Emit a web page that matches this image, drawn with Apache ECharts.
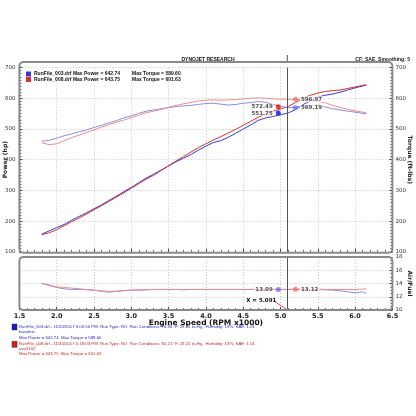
<!DOCTYPE html>
<html>
<head>
<meta charset="utf-8">
<script src="https://cdn.jsdelivr.net/npm/echarts@6/dist/echarts.min.js"></script>
<style>
  html, body { margin: 0; padding: 0; background: #fff; }
  #chart { width: 416px; height: 416px; }
</style>
</head>
<body>
<div id="chart"></div>
<script>
// engine speed, RPM x1000
const rpm = [1.8, 1.9, 2.0, 2.1, 2.2, 2.3, 2.4, 2.5, 2.6, 2.7, 2.8, 2.9, 3.0, 3.1, 3.2, 3.3, 3.4, 3.5, 3.6, 3.7,
  3.8, 3.9, 4.0, 4.1, 4.2, 4.3, 4.4, 4.5, 4.6, 4.7, 4.8, 4.9, 5.0, 5.1, 5.2, 5.3, 5.4, 5.5, 5.6, 5.7,
  5.8, 5.9, 6.0, 6.1, 6.15];

// RunFile_003 (blue, baseline)
const power003 = [158, 168, 179, 189, 203, 215, 227, 240, 253, 267, 281, 296, 310, 325, 340, 353, 366, 380, 393, 405,
  417, 431, 444, 456, 462, 473, 486, 500, 513, 528, 536, 541, 546, 552, 563, 579, 592, 604, 610, 614,
  620, 627, 634, 640, 642.7];
const torque003 = [460, 463, 470, 478, 484, 491, 497, 505, 512, 520, 527, 536, 543, 551, 558, 562, 566, 570, 573, 575,
  577, 580, 583, 584, 581, 578, 580, 584, 586, 589.6, 587, 580, 574, 569, 571, 574, 576, 577, 572, 566,
  562, 558, 555, 551, 549];
const afr003 = [14.0, 13.7, 13.4, 13.2, 13.1, 13.1, 13.05, 13.0, 12.8, 12.7, 12.8, 12.9, 13.0, 13.0, 13.05, 13.1, 13.1, 13.1, 13.1, 13.05,
  13.1, 13.1, 13.1, 13.1, 13.1, 13.1, 13.1, 13.1, 13.1, 13.1, 13.1, 13.1, 13.09, 13.1, 13.1, 13.1, 13.1, 13.1, 13.05, 13.0,
  12.9, 12.75, 12.6, 12.75, 12.5];

// RunFile_008 (red)
const power008 = [156, 162, 172, 185, 198, 210, 223, 237, 250, 264, 278, 292, 307, 322, 337, 349, 365, 380, 396, 410,
  425, 439, 452, 464, 475, 487, 499, 512, 525, 538, 548, 558, 565, 573, 586, 600, 610, 617, 622, 625,
  627, 632, 637, 642, 643.75];
const torque008 = [455, 449, 452, 462, 472, 480, 489, 497, 506, 514, 522, 529, 537, 545, 553, 558, 564, 570, 577, 582,
  587, 591, 594, 595, 594, 595, 596, 598, 600, 601.6, 600, 598, 597, 597, 596, 595, 593, 590, 585, 577,
  570, 564, 559, 555, 553];
const afr008 = [14.0, 13.8, 13.5, 13.4, 13.3, 13.2, 13.1, 13.0, 12.9, 12.8, 12.85, 12.95, 13.0, 13.05, 13.05, 13.1, 13.1, 13.1, 13.1, 13.1,
  13.1, 13.1, 13.1, 13.1, 13.1, 13.1, 13.1, 13.1, 13.1, 13.1, 13.1, 13.1, 13.12, 13.12, 13.15, 13.15, 13.15, 13.15, 13.1, 13.1,
  13.1, 13.1, 13.1, 13.15, 13.2];

const runNames = ['RunFile_003.drf', 'RunFile_008.drf'];
const maxPower = ['642.74', '643.75'];
const maxTorque = ['589.60', '601.63'];

// cursor readout
const cursorRpm = 5.091;
const readLeftRpm = 4.97;
const readRightRpm = 5.2;
const cursorPower = [551.75, 572.49];
const cursorTorque = [569.19, 596.97];
const cursorAfr = [13.09, 13.12];

const xTicks = [1.5, 6.5, 0.5];
const powerTicks = [100, 700, 100];
const afrTicks = [10, 18, 2];

const infoLines = [
  ['RunFile_003.drf - 11/20/2017 3:00:50 PM  Run Type: RO  Run Conditions: 76.96 °F, 29.26 in-Hg,  Humidity: 19%, SAE: 1.01',
    'baseline', 'Max Power = 642.74  Max Torque = 589.60'],
  ['RunFile_008.drf - 11/20/2017 5:18:03 PM  Run Type: RO  Run Conditions: 82.21 °F, 29.25 in-Hg,  Humidity: 13%, SAE: 1.01',
    'evo5102', 'Max Power = 643.75  Max Torque = 601.63']
];

const BLUE = '#3a3ad2';
const RED = '#d83030';
const BLUE_L = '#8c8ce8';
const RED_L = '#ee8c8c';
const FONT = 'DejaVu Sans';
const NARROW = 'Liberation Sans';

const pairs = (ys) => rpm.map((x, i) => [x, ys[i]]);

const chart = echarts.init(document.getElementById('chart'));

const line = (name, data, color, xi, yi, extra) => Object.assign({
  name, type: 'line', data, xAxisIndex: xi, yAxisIndex: yi,
  showSymbol: false, symbol: 'none', lineStyle: { color, width: 1 }, itemStyle: { color },
  emphasis: { disabled: true }, animation: false
}, extra || {});

const dot = (name, x, y, color, yi, xi, pos) => ({
  name, type: 'scatter', xAxisIndex: xi, yAxisIndex: yi, data: [[x, y]],
  symbolSize: 5, itemStyle: { color }, z: 5, animation: false,
  label: {
    show: true, position: pos, distance: 2, formatter: () => y.toFixed(2),
    fontFamily: FONT, fontSize: 5.5, fontWeight: 'bold', color: '#222',
    backgroundColor: 'rgba(255,255,255,0.9)', padding: [0, 1]
  }
});

const cursorLine = {
  silent: true, symbol: 'none', animation: false,
  lineStyle: { color: '#555', width: 1, type: 'solid' },
  label: { show: false },
  data: [{ xAxis: cursorRpm }]
};

const gridLineStyle = { color: '#c4c4c4', type: [1, 2], width: 1 };
const tickLabel = { fontFamily: FONT, fontSize: 5.5, color: '#333' };
const axisName = { fontFamily: FONT, fontSize: 6, fontWeight: 'bold', color: '#222' };

const xAxisBase = (gi) => ({
  type: 'value', gridIndex: gi, min: xTicks[0], max: xTicks[1], interval: xTicks[2],
  axisLine: { show: false },
  axisTick: { show: true, inside: true, length: 3, lineStyle: { color: '#444' } },
  minorTick: { show: true, splitNumber: 5, length: 2, lineStyle: { color: '#666' } },
  splitLine: { show: true, lineStyle: gridLineStyle }
});

const yAxisBase = (gi, pos, ticks, minor) => ({
  type: 'value', gridIndex: gi, position: pos, min: ticks[0], max: ticks[1], interval: ticks[2],
  axisLine: { show: false },
  axisTick: { show: true, inside: true, length: 3, lineStyle: { color: '#444' } },
  minorTick: { show: true, splitNumber: minor, length: 2, lineStyle: { color: '#666' } },
  axisLabel: Object.assign({ margin: pos === 'left' ? 4 : 3 }, tickLabel),
  nameLocation: 'middle', nameMoveOverlap: false, nameTextStyle: axisName
});

chart.setOption({
  backgroundColor: '#fff',
  animation: false,
  grid: [
    { left: 19.4, width: 373, top: 67.6, height: 184.2, containLabel: false, outerBoundsMode: 'none' },
    { left: 19.4, width: 373, top: 257, height: 53, containLabel: false, outerBoundsMode: 'none' }
  ],
  legend: {
    left: 21, top: 66.5, orient: 'vertical', itemGap: 0.5,
    itemWidth: 5, itemHeight: 5, icon: 'rect',
    data: runNames, selectedMode: false,
    formatter: (name) => {
      const i = runNames.indexOf(name);
      return '{a|' + name + ' Max Power = ' + maxPower[i] + '}{b|Max Torque = ' + maxTorque[i] + '}';
    },
    textStyle: {
      padding: [0, 0, 0, -2],
      rich: {
        a: { fontFamily: NARROW, fontSize: 5, fontWeight: 'bold', color: '#111', width: 98, lineHeight: 5.5 },
        b: { fontFamily: NARROW, fontSize: 5, fontWeight: 'bold', color: '#111', lineHeight: 5.5 }
      }
    }
  },
  xAxis: [
    Object.assign(xAxisBase(0), { axisLabel: { show: false } }),
    Object.assign(xAxisBase(1), {
      axisLabel: {
        show: true, margin: 3, formatter: (v) => v.toFixed(1),
        fontFamily: FONT, fontSize: 6.5, fontWeight: 'bold', color: '#222'
      },
      name: 'Engine Speed (RPM x1000)', nameLocation: 'middle', nameGap: 9.5, nameMoveOverlap: false,
      nameTextStyle: { fontFamily: FONT, fontSize: 7.5, fontWeight: 'bold', color: '#111' }
    })
  ],
  yAxis: [
    Object.assign(yAxisBase(0, 'left', powerTicks, 10), {
      splitLine: { show: true, lineStyle: gridLineStyle },
      name: 'Power (hp)', nameGap: 11, nameRotate: 90
    }),
    Object.assign(yAxisBase(0, 'right', powerTicks, 10), {
      splitLine: { show: false },
      name: 'Torque (ft-lbs)', nameGap: 14, nameRotate: -90
    }),
    Object.assign(yAxisBase(1, 'right', afrTicks, 4), {
      splitLine: { show: true, lineStyle: gridLineStyle },
      name: 'Air/Fuel', nameGap: 14, nameRotate: -90
    })
  ],
  series: [
    line(runNames[0], pairs(power003), BLUE, 0, 0, { markLine: cursorLine }),
    line(runNames[1], pairs(power008), RED, 0, 0),
    line(runNames[0], pairs(torque003), BLUE_L, 0, 1),
    line(runNames[1], pairs(torque008), RED_L, 0, 1),
    line(runNames[0], pairs(afr003), BLUE_L, 1, 2, { markLine: cursorLine }),
    line(runNames[1], pairs(afr008), RED_L, 1, 2),
    dot('p3', readLeftRpm, cursorPower[0], '#1010d0', 0, 0, 'left'),
    dot('p8', readLeftRpm, cursorPower[1], '#e01010', 0, 0, 'left'),
    dot('t3', readRightRpm, cursorTorque[0], '#7070f0', 1, 0, 'right'),
    dot('t8', readRightRpm, cursorTorque[1], '#f07070', 1, 0, 'right'),
    dot('a3', readLeftRpm, cursorAfr[0], '#7070f0', 2, 1, 'left'),
    dot('a8', readRightRpm, cursorAfr[1], '#f07070', 2, 1, 'right')
  ]
});

// frames, header and run info
const pTop = chart.convertToPixel({ gridIndex: 0 }, [xTicks[0], powerTicks[1]]);
const pBot = chart.convertToPixel({ gridIndex: 0 }, [xTicks[1], powerTicks[0]]);
const aTop = chart.convertToPixel({ gridIndex: 1 }, [xTicks[0], afrTicks[1]]);
const aBot = chart.convertToPixel({ gridIndex: 1 }, [xTicks[1], afrTicks[0]]);
const cur = chart.convertToPixel({ gridIndex: 1 }, [cursorRpm, afrTicks[0]]);

const infoY = [[327, 332, 337.6], [344.3, 349.3, 354.3]];
const info = [];
infoLines.forEach((rows, i) => {
  const color = i === 0 ? '#2828c0' : '#d02020';
  info.push({
    type: 'rect', shape: { x: 12, y: infoY[i][0] - 3, width: 5, height: 6 },
    style: { fill: i === 0 ? '#1818d0' : '#e01818', stroke: '#333', lineWidth: 0.5 }
  });
  rows.forEach((t, j) => {
    info.push({
      type: 'text', x: 19, y: infoY[i][j],
      style: { text: t, fill: color, fontFamily: NARROW, fontSize: 4.3, textVerticalAlign: 'middle' }
    });
  });
});

chart.setOption({
  graphic: [
    {
      type: 'rect', shape: { x: pTop[0], y: 62, width: pBot[0] - pTop[0], height: pBot[1] + 1 - 62, r: 4 },
      style: { fill: null, stroke: '#8a8a8a', lineWidth: 2 }, z: 10, silent: true
    },
    {
      type: 'rect', shape: { x: aTop[0], y: aTop[1], width: aBot[0] - aTop[0], height: aBot[1] - aTop[1], r: 4 },
      style: { fill: null, stroke: '#8a8a8a', lineWidth: 2 }, z: 10, silent: true
    },
    {
      type: 'line', shape: { x1: cur[0], y1: 55, x2: cur[0], y2: 62 },
      style: { stroke: '#555', lineWidth: 1 }
    },
    {
      type: 'text', x: 208, y: 60, style: {
        text: 'DYNOJET RESEARCH', textAlign: 'center', textVerticalAlign: 'middle', fill: '#111',
        fontFamily: NARROW, fontSize: 5, fontWeight: 'bold'
      }
    },
    {
      type: 'text', x: 410, y: 60, style: {
        text: 'CF: SAE  Smoothing: 5', textAlign: 'right', textVerticalAlign: 'middle', fill: '#111',
        fontFamily: NARROW, fontSize: 5, fontWeight: 'bold'
      }
    },
    {
      type: 'line', shape: { x1: cur[0] - 12, y1: cur[1] - 8, x2: cur[0] - 1, y2: cur[1] - 1 },
      style: { stroke: '#e05050', lineWidth: 1 }, z: 6
    },
    {
      type: 'text', x: cur[0] - 11, y: cur[1] - 9, style: {
        text: 'X = 5.091', textAlign: 'right', textVerticalAlign: 'middle', fill: '#111',
        fontFamily: FONT, fontSize: 5.5, fontWeight: 'bold'
      }, z: 6
    }
  ].concat(info)
});
</script>
</body>
</html>
